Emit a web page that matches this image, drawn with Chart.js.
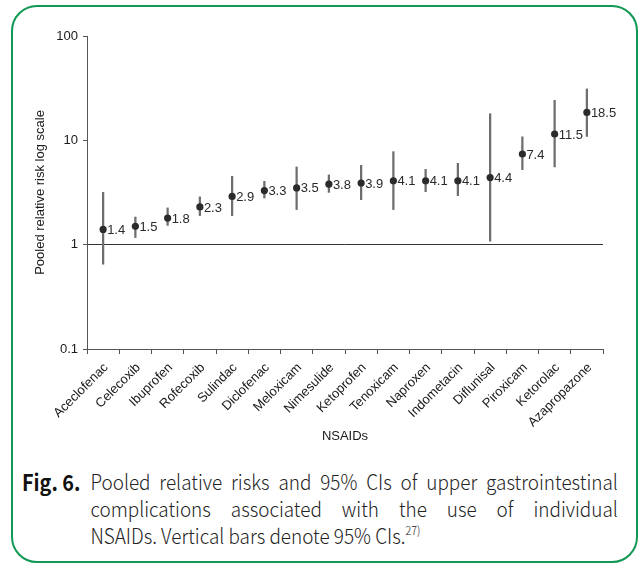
<!DOCTYPE html>
<html>
<head>
<meta charset="utf-8">
<script src="https://cdn.jsdelivr.net/npm/chart.js@4.4.0/dist/chart.umd.min.js"></script>
<style>
  html, body { margin: 0; padding: 0; background: #fff; }
  body { width: 639px; height: 565px; position: relative; overflow: hidden; }
  #frame { position: absolute; left: 11px; top: 5px; width: 623px; height: 554px;
           border: 2px solid rgb(16,152,84); border-radius: 26px; box-sizing: content-box; }
  #wrap { position: absolute; left: 0; top: 0; width: 639px; height: 455px; }
  #caption { position: absolute; left: 22px; top: 468px; width: 662px; color: #222;
             font-family: "Noto Sans CJK KR", "Noto Sans", sans-serif; font-size: 21px; line-height: 27px;
             font-weight: 300; transform: scaleX(0.9); transform-origin: 0 0; }
  #caption .fig { position: absolute; left: 0; top: 0; font-weight: bold; color: #111; font-size: 22px; }
  #caption .body { margin-left: 76px; }
  #caption .ln { white-space: nowrap; text-align: justify; text-align-last: justify; }
  #caption .ln.last { text-align-last: left; }
  sup { font-size: 12px; line-height: 0; vertical-align: 9px; }
</style>
</head>
<body>
<div id="frame"></div>
<div id="wrap"><canvas id="c" width="639" height="455"></canvas></div>
<div id="caption">
  <span class="fig">Fig. 6.</span>
  <div class="body">
    <div class="ln">Pooled relative risks and 95% CIs of upper gastrointestinal</div>
    <div class="ln">complications associated with the use of individual</div>
    <div class="ln last">NSAIDs. Vertical bars denote 95% CIs.<sup>27)</sup></div>
  </div>
</div>
<script>
const categories = ["Aceclofenac","Celecoxib","Ibuprofen","Rofecoxib","Sulindac","Diclofenac","Meloxicam","Nimesulide","Ketoprofen","Tenoxicam","Naproxen","Indometacin","Diflunisal","Piroxicam","Ketorolac","Azapropazone"];
const pooledRR = [1.4, 1.5, 1.8, 2.3, 2.9, 3.3, 3.5, 3.8, 3.9, 4.1, 4.1, 4.1, 4.4, 7.4, 11.5, 18.5];
const ciLow  = [0.65, 1.17, 1.53, 1.90, 1.90, 2.80, 2.17, 3.17, 2.70, 2.17, 3.22, 2.95, 1.08, 5.24, 5.56, 10.9];
const ciHigh = [3.17, 1.84, 2.25, 2.87, 4.52, 4.05, 5.56, 4.66, 5.76, 7.79, 5.27, 6.02, 18.0, 10.8, 24.2, 31.1];
const yTicks = [0.1, 1, 10, 100];

const FONT = "'Liberation Sans', Arial, Helvetica, sans-serif";
Chart.defaults.font.family = FONT;
Chart.defaults.font.size = 13;
Chart.defaults.color = '#1a1a1a';

const valueLabels = {
  id: 'valueLabels',
  afterDatasetsDraw(chart) {
    const meta = chart.getDatasetMeta(1);
    const ctx = chart.ctx;
    ctx.save();
    ctx.font = "13px " + FONT;
    ctx.fillStyle = '#2a2a2a';
    ctx.textAlign = 'left';
    ctx.textBaseline = 'middle';
    meta.data.forEach((pt, i) => {
      ctx.fillText(pooledRR[i].toFixed(1), pt.x + 4, pt.y + 1);
    });
    ctx.restore();
  }
};

new Chart(document.getElementById('c'), {
  type: 'bar',
  data: {
    labels: categories,
    datasets: [
      {
        type: 'bar',
        label: '95% CI',
        data: categories.map((_, i) => [ciLow[i], ciHigh[i]]),
        backgroundColor: '#6e6e6e',
        borderWidth: 0,
        barThickness: 1.6,
        order: 2
      },
      {
        type: 'line',
        label: 'Pooled RR',
        data: pooledRR,
        showLine: false,
        pointRadius: 3.6,
        pointBackgroundColor: '#2b2b2b',
        pointBorderColor: '#2b2b2b',
        pointBorderWidth: 0,
        order: 1
      }
    ]
  },
  options: {
    responsive: false,
    animation: false,
    devicePixelRatio: 1,
    layout: { padding: { left: 0, top: 36, right: 36, bottom: 0 } },
    plugins: { legend: { display: false }, tooltip: { enabled: false } },
    scales: {
      x: {
        type: 'category',
        offset: true,
        grid: { offset: true, drawOnChartArea: false, tickLength: 5, tickColor: '#555', tickWidth: 1 },
        border: { color: '#555', width: 1 },
        ticks: { maxRotation: 45, minRotation: 45, padding: 6, labelOffset: 3, color: '#1a1a1a', font: { size: 13 } },
        title: { display: true, text: 'NSAIDs', color: '#1a1a1a', font: { size: 13 }, padding: { top: 0, bottom: 11 } },
        afterFit(s) { s.height = 106; }
      },
      y: {
        type: 'logarithmic',
        min: 0.1,
        max: 100,
        afterBuildTicks(axis) { axis.ticks = yTicks.map(v => ({ value: v })); },
        ticks: {
          padding: 5,
          color: '#1a1a1a',
          font: { size: 13 },
          callback: (v) => String(v)
        },
        grid: {
          drawOnChartArea: true,
          tickLength: 4,
          tickColor: '#555',
          color: (c) => (c.tick && c.tick.value === 1) ? '#333' : 'rgba(0,0,0,0)',
          lineWidth: 1
        },
        border: { color: '#555', width: 1 },
        title: { display: true, text: 'Pooled relative risk log scale', color: '#1a1a1a', font: { size: 13 }, padding: { top: 33, bottom: 0 } },
        afterFit(s) { s.width = 87; }
      }
    }
  },
  plugins: [valueLabels]
});
</script>
</body>
</html>
